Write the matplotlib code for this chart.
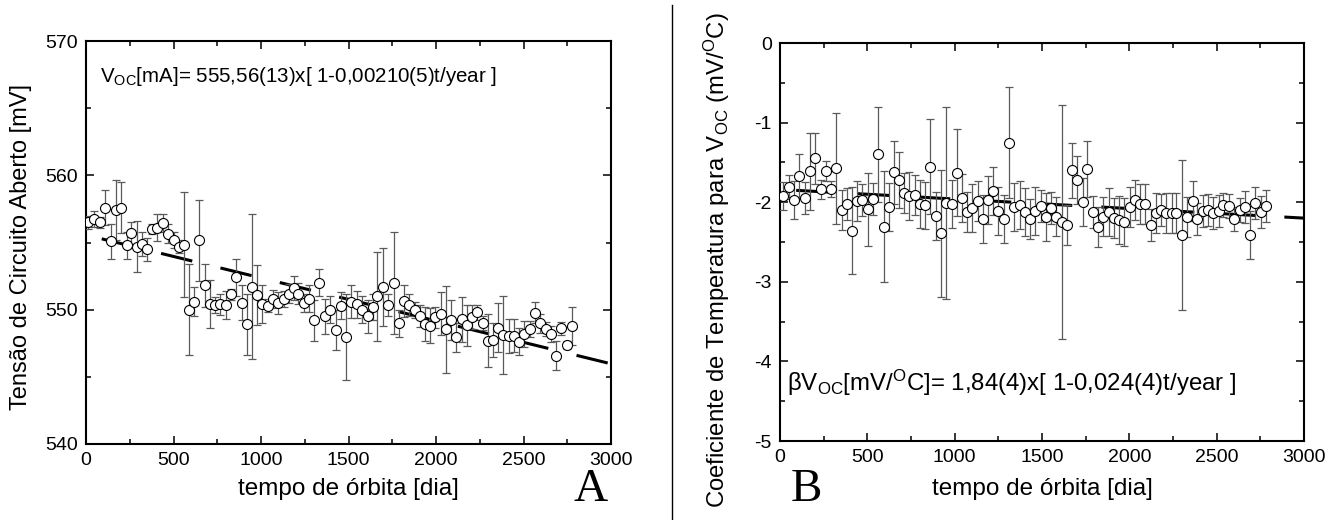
import numpy as np
import matplotlib
matplotlib.use("Agg")
import matplotlib.pyplot as plt
from matplotlib.lines import Line2D

plt.rcParams["font.family"] = ["Liberation Sans", "DejaVu Sans"]
plt.rcParams["mathtext.default"] = "regular"

# ---------------- panel A: open-circuit voltage ----------------
t_A = [13, 47, 80, 109, 141, 170, 200, 232, 259, 290,
       320, 350, 375, 408, 440, 470, 501, 530, 560, 590,
       619, 648, 678, 709, 737, 768, 798, 829, 859, 890,
       920, 950, 979, 1007, 1038, 1069, 1099, 1130, 1160, 1189,
       1213, 1243, 1274, 1304, 1334, 1365, 1395, 1426, 1456, 1487,
       1517, 1548, 1578, 1609, 1639, 1665, 1695, 1726, 1758, 1789,
       1817, 1848, 1878, 1909, 1937, 1966, 1996, 2027, 2057, 2088,
       2116, 2147, 2177, 2206, 2236, 2267, 2295, 2326, 2354, 2385,
       2415, 2446, 2476, 2505, 2535, 2566, 2596, 2627, 2657, 2686,
       2716, 2747, 2777]
v_A = [556.5, 556.75, 556.5, 557.6, 555.1, 557.4, 557.6, 554.8, 555.7, 554.7,
       554.9, 554.5, 556.0, 556.1, 556.45, 555.65, 555.2, 554.7, 554.85, 550.0,
       550.6, 555.15, 551.8, 550.4, 550.35, 550.4, 550.35, 551.15, 552.4, 550.5,
       548.9, 551.7, 551.1, 550.4, 550.3, 550.8, 550.5, 550.8, 551.2, 551.6,
       551.2, 550.5, 550.8, 549.2, 552.0, 549.5, 550.0, 548.5, 550.3, 548.0,
       550.6, 550.4, 550.0, 549.5, 550.2, 551.0, 551.67, 550.35, 552.0, 548.99,
       550.67, 550.35, 550.0, 549.53, 548.94, 548.8, 549.43, 549.68, 548.54, 549.23,
       547.94, 549.28, 548.83, 549.48, 549.8, 549.0, 547.7, 547.77, 548.67, 548.14,
       548.02, 548.07, 547.6, 548.19, 548.54, 549.78, 548.99, 548.56, 548.17, 546.58,
       548.61, 547.37, 548.79]
e_A = [0.5, 0.6, 0.4, 1.3, 1.3, 2.25, 1.9, 1.0, 0.8, 1.9,
       0.9, 0.85, 0.4, 1.0, 0.7, 0.7, 0.6, 0.5, 3.9, 3.4,
       1.1, 3.0, 1.6, 1.8, 0.6, 0.8, 1.05, 0.4, 1.4, 1.3,
       2.3, 5.4, 2.25, 1.4, 0.5, 0.7, 0.8, 0.6, 0.7, 0.9,
       0.8, 0.7, 1.0, 1.5, 1.0, 1.3, 1.0, 1.5, 1.0, 3.2,
       1.2, 1.0, 1.0, 1.2, 1.0, 3.3, 2.9, 0.8, 3.8, 1.0,
       1.2, 0.85, 0.6, 0.8, 1.25, 1.3, 0.8, 1.6, 3.25, 1.5,
       1.1, 1.7, 1.5, 0.9, 0.55, 0.5, 2.0, 1.27, 1.8, 2.9,
       1.26, 1.2, 1.0, 1.0, 0.6, 0.8, 0.7, 0.5, 0.6, 1.1,
       0.5, 0.3, 1.4]

# ---------------- panel B: temperature coefficient ----------------
t_B = [15, 52, 80, 110, 141, 172, 202, 233, 262, 292,
       321, 353, 382, 410, 442, 471, 502, 532, 561, 594,
       622, 651, 681, 710, 740, 771, 801, 832, 860, 893,
       922, 952, 983, 1011, 1042, 1072, 1101, 1132, 1162, 1190,
       1221, 1250, 1280, 1311, 1341, 1372, 1400, 1431, 1461, 1492,
       1521, 1551, 1580, 1612, 1641, 1671, 1701, 1732, 1760, 1792,
       1822, 1851, 1881, 1912, 1941, 1971, 2002, 2032, 2061, 2091,
       2122, 2152, 2181, 2211, 2242, 2270, 2303, 2331, 2362, 2390,
       2421, 2451, 2480, 2511, 2539, 2570, 2600, 2631, 2661, 2690,
       2720, 2751, 2781]
b_B = [-1.922, -1.813, -1.972, -1.671, -1.943, -1.612, -1.449, -1.838, -1.608, -1.834,
       -1.575, -2.098, -2.023, -2.358, -1.981, -1.977, -2.09, -1.956, -1.399, -2.307,
       -2.056, -1.625, -1.72, -1.884, -1.926, -1.91, -2.019, -2.04, -1.554, -2.17,
       -2.391, -2.01, -2.019, -1.629, -1.951, -2.123, -2.069, -1.985, -2.207, -1.968,
       -1.859, -2.106, -2.207, -1.252, -2.064, -2.035, -2.119, -2.215, -2.106, -2.048,
       -2.182, -2.069, -2.18, -2.245, -2.286, -1.6, -1.72, -1.993, -1.58, -2.119,
       -2.316, -2.18, -2.12, -2.194, -2.224, -2.245, -2.056, -1.972, -2.027, -2.023,
       -2.286, -2.14, -2.098, -2.14, -2.132, -2.132, -2.412, -2.182, -1.981, -2.215,
       -2.115, -2.098, -2.14, -2.106, -2.031, -2.048, -2.215, -2.098, -2.056, -2.416,
       -2.014, -2.119, -2.044]
e_B = [0.18, 0.15, 0.24, 0.28, 0.2, 0.48, 0.32, 0.12, 0.12, 0.1,
       0.7, 0.25, 0.2, 0.55, 0.25, 0.2, 0.46, 0.2, 0.6, 0.7,
       0.3, 0.4, 0.35, 0.25, 0.3, 0.25, 0.3, 0.3, 0.6, 0.3,
       0.8, 1.2, 0.3, 0.55, 0.3, 0.25, 0.3, 0.25, 0.3, 0.3,
       0.3, 0.3, 0.3, 0.7, 0.3, 0.3, 0.3, 0.25, 0.3, 0.2,
       0.3, 0.2, 0.25, 1.47, 0.25, 0.35, 0.3, 0.3, 0.35, 0.2,
       0.25, 0.25, 0.3, 0.25, 0.3, 0.3, 0.25, 0.25, 0.25, 0.25,
       0.2, 0.25, 0.2, 0.25, 0.25, 0.25, 0.94, 0.25, 0.25, 0.2,
       0.2, 0.2, 0.2, 0.2, 0.15, 0.15, 0.15, 0.15, 0.2, 0.3,
       0.2, 0.2, 0.2]

# fitted trend lines (endpoints of the fits quoted in the panels)
fit_t = [0, 3000]
fit_A = [555.56, 545.97]
fit_B = [-1.84, -2.20]

fig = plt.figure(figsize=(13.44, 5.2), dpi=100)
axA = fig.add_axes([86/1344, 76/520, 525/1344, 403/520])
axB = fig.add_axes([780/1344, 79/520, 524/1344, 398/520])

dash = (14.7, (10.5, 9.5))
for ax, t, y, e, fy in [(axA, t_A, v_A, e_A, fit_A), (axB, t_B, b_B, e_B, fit_B)]:
    ax.plot(fit_t, fy, color="black", lw=2.2, ls=dash, zorder=2)
    ax.errorbar(t, y, yerr=e, fmt="none", ecolor="#5a5a5a", elinewidth=0.9,
                capsize=3.2, capthick=0.9, zorder=3)
    ax.plot(t, y, "o", ms=7.2, mfc="white", mec="black", mew=0.8, zorder=4)
    ax.set_xlim(0, 3000)
    ax.set_xticks(range(0, 3001, 500))
    ax.set_xticks(range(250, 3000, 500), minor=True)
    ax.tick_params(which="both", direction="in", top=True, right=True,
                   labelsize=14, width=1.1, pad=6)
    ax.tick_params(which="major", length=6)
    ax.tick_params(which="minor", length=3.5)
    for s in ax.spines.values():
        s.set_linewidth(1.5)

axA.set_ylim(540, 570)
axA.set_yticks([540, 550, 560, 570])
axA.set_yticks([545, 555, 565], minor=True)
axB.set_ylim(-5, 0)
axB.set_yticks([-5, -4, -3, -2, -1, 0])
axB.set_yticklabels(["-5", "-4", "-3", "-2", "-1", "0"])
axB.set_yticks([-4.5, -3.5, -2.5, -1.5, -0.5], minor=True)

axA.set_ylabel("Tensão de Circuito Aberto [mV]", fontsize=17)
axA.yaxis.set_label_coords(-0.103, 0.49)
axB.set_ylabel(r"Coeficiente de Temperatura para V$_{OC}$ (mV/$^{O}$C)", fontsize=17.2)
axB.yaxis.set_label_coords(-0.092, 0.455)
axA.set_xlabel("tempo de órbita [dia]", fontsize=17.5)
axA.xaxis.set_label_coords(0.5, -0.085)
axB.set_xlabel("tempo de órbita [dia]", fontsize=17.5)
axB.xaxis.set_label_coords(0.5, -0.092)

axA.text(0.027, 0.913, r"V$_{OC}$[mA]= 555,56(13)x[ 1-0,00210(5)t/year ]",
         transform=axA.transAxes, fontsize=14.8, va="center", ha="left")
axB.text(0.013, 0.145, r"βV$_{OC}$[mV/$^{O}$C]= 1,84(4)x[ 1-0,024(4)t/year ]",
         transform=axB.transAxes, fontsize=17.3, va="center", ha="left")

fig.text(591/1344, 1 - 490/520, "A", family="Liberation Serif", fontsize=34,
         ha="center", va="center")
fig.text(806/1344, 1 - 490/520, "B", family="Liberation Serif", fontsize=34,
         ha="center", va="center")

fig.add_artist(Line2D([672/1344, 672/1344], [0, 0.99], color="black", lw=1.0,
                      transform=fig.transFigure))

fig.savefig("out.png", dpi=100)
